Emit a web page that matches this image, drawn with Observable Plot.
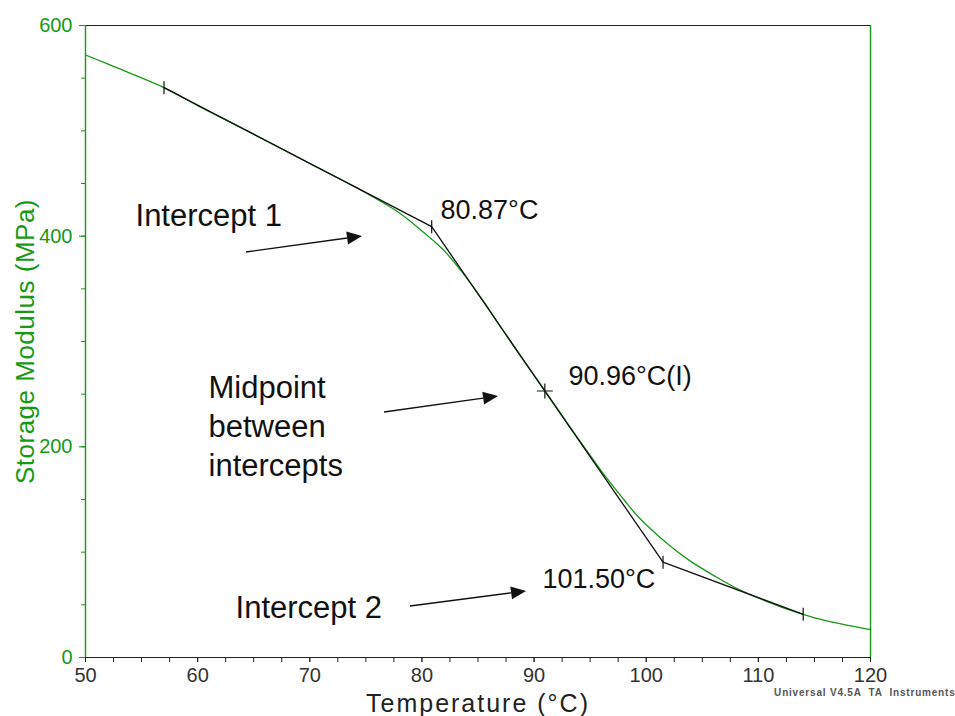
<!DOCTYPE html>
<html>
<head>
<meta charset="utf-8">
<script src="https://cdn.jsdelivr.net/npm/d3@7"></script>
<script src="https://cdn.jsdelivr.net/npm/@observablehq/plot@0.6"></script>
<style>
  body { margin: 0; background: #fff; }
  #chart { width: 955px; height: 716px; }
  #chart svg { font-family: "Liberation Sans", Arial, sans-serif; }
</style>
</head>
<body>
<div id="chart"></div>
<script>
// Storage modulus curve (DMA temperature sweep)
const temperature = [50, 53, 57, 60, 65, 70, 74, 76, 78, 80, 81, 82, 83.5, 85.5, 87, 89, 91, 93, 95, 96.5, 98, 99, 100, 102, 104, 106, 108, 110, 112, 114, 116, 118, 120];
const modulus     = [572, 559, 541, 524, 497, 469, 447, 435, 422, 405, 396, 386, 367, 338, 314, 283, 253, 222, 192, 170, 150, 137, 126, 107, 91, 78, 66, 56.5, 48, 41, 35, 30.5, 26.5];

// Onset / midpoint / endset tangent construction
const tangentTemp    = [57, 80.87, 90.96, 101.50, 114.0];
const tangentModulus = [541, 409, 253, 90.5, 41];
const tangentMark    = ["end", "end", "mid", "end", "end"];

// Axis ticks
const xMajor = [50, 60, 70, 80, 90, 100, 110, 120];
const xMinor = d3.range(50, 120.01, 2.5);
const yMajor = [0, 200, 400, 600];
const yMinor = d3.range(0, 600.01, 50);

// Annotations (data units)
const noteText  = ["Intercept 1", "Midpoint\nbetween\nintercepts", "Intercept 2"];
const noteTemp  = [54.46, 60.97, 63.38];
const noteMod   = [421.5, 221.2, 49.4];

const valueText = ["80.87°C", "90.96°C(I)", "101.50°C"];
const valueTemp = [81.66, 93.07, 90.75];
const valueMod  = [424.4, 266.8, 74.0];

const arrowFromT = [64.36, 76.66, 78.98];
const arrowFromM = [384.5, 232.6, 48.4];
const arrowToT   = [74.70, 86.83, 89.33];
const arrowToM   = [399.7, 247.8, 62.7];

const green = "#159a15";
const font = "Liberation Sans, Arial, sans-serif";

const curve = temperature.map((t, i) => ({t, m: modulus[i]}));
const tangent = tangentTemp.map((t, i) => ({t, m: tangentModulus[i], kind: tangentMark[i]}));
const notes = noteText.map((s, i) => ({s, t: noteTemp[i], m: noteMod[i]}));
const values = valueText.map((s, i) => ({s, t: valueTemp[i], m: valueMod[i]}));
const arrows = arrowFromT.map((t, i) => ({t1: t, m1: arrowFromM[i], t2: arrowToT[i], m2: arrowToM[i]}));

// short vertical tick and plus symbols for the tangent markers
const vbar = {draw(ctx) { ctx.moveTo(0, -6.5); ctx.lineTo(0, 6.5); }};
const plus = {draw(ctx) { ctx.moveTo(0, -7.5); ctx.lineTo(0, 7.5); ctx.moveTo(-8, 0); ctx.lineTo(8, 0); }};

// arrows with filled triangular heads
function drawArrows(index, scales) {
  const g = d3.create("svg:g").attr("aria-label", "arrows");
  for (const i of index) {
    const d = arrows[i];
    const x1 = scales.x(d.t1), y1 = scales.y(d.m1);
    const x2 = scales.x(d.t2), y2 = scales.y(d.m2);
    const a = Math.atan2(y2 - y1, x2 - x1);
    const L = 15, W = 6.5;
    const bx = x2 - L * Math.cos(a), by = y2 - L * Math.sin(a);
    g.append("line")
      .attr("x1", x1).attr("y1", y1).attr("x2", bx).attr("y2", by)
      .attr("stroke", "#111").attr("stroke-width", 1.4);
    g.append("path")
      .attr("d", `M${x2},${y2}L${bx - W * Math.sin(a)},${by + W * Math.cos(a)}L${bx + W * Math.sin(a)},${by - W * Math.cos(a)}Z`)
      .attr("fill", "#111");
  }
  return g.node();
}

const chart = Plot.plot({
  width: 955,
  height: 716,
  marginLeft: 85,
  marginRight: 85,
  marginTop: 25,
  marginBottom: 59,
  style: {fontFamily: font, background: "#fff", overflow: "visible"},
  x: {domain: [50, 120]},
  y: {domain: [0, 600]},
  marks: [
    // frame
    Plot.ruleY([600], {stroke: "#222", strokeWidth: 1.2}),
    Plot.ruleY([0], {stroke: "#222", strokeWidth: 1.2}),
    Plot.ruleX([120], {stroke: green, strokeWidth: 1.4}),
    // axes
    Plot.axisX(xMinor, {tickSize: 5, tickFormat: () => "", stroke: "#222", label: null}),
    Plot.axisX(xMajor, {tickSize: 5, tickPadding: 5, fontSize: 20, fill: "#333", stroke: "#222", label: null}),
    Plot.axisY(yMinor, {tickSize: 4, tickFormat: () => "", stroke: green, label: null}),
    Plot.axisY(yMajor, {tickSize: 6, tickPadding: 7, fontSize: 20, fill: green, stroke: green, label: null}),
    Plot.ruleX([50], {stroke: green, strokeWidth: 1.4}),
    // axis titles
    Plot.text(["Temperature (°C)"], {frameAnchor: "bottom", dy: 46, fontSize: 25, fill: "#222", text: d => d, textAnchor: "middle", lineAnchor: "middle"}),
    Plot.text(["Storage Modulus (MPa)"], {frameAnchor: "left", dx: -60, rotate: -90, fontSize: 26, fill: green, text: d => d, textAnchor: "middle", lineAnchor: "middle"}),
    Plot.text(["Universal V4.5A  TA  Instruments"], {frameAnchor: "bottom-right", dx: 85, dy: 38, textAnchor: "end", fontSize: 10, fontWeight: "bold", fill: "#555", text: d => d}),
    // data curve
    Plot.line(curve, {x: "t", y: "m", stroke: green, strokeWidth: 1.3, curve: "catmull-rom"}),
    // tangent construction
    Plot.line(tangent, {x: "t", y: "m", stroke: "#111", strokeWidth: 1.3}),
    Plot.dot(tangent.filter(d => d.kind === "end"), {x: "t", y: "m", symbol: vbar, fill: "none", stroke: "#111", strokeWidth: 1.2}),
    Plot.dot(tangent.filter(d => d.kind === "mid"), {x: "t", y: "m", symbol: plus, fill: "none", stroke: "#111", strokeWidth: 1.2}),
    // annotations
    Plot.text(notes, {x: "t", y: "m", text: "s", textAnchor: "start", lineAnchor: "middle", fontSize: 31, lineHeight: 1.26, fill: "#111"}),
    Plot.text(values, {x: "t", y: "m", text: "s", textAnchor: "start", lineAnchor: "middle", fontSize: 27, fill: "#111"}),
    Plot.link(arrows, {x1: "t1", y1: "m1", x2: "t2", y2: "m2", render: drawArrows})
  ]
});

// letter spacing for the axis titles and instrument credit
d3.select(chart).selectAll("text").each(function() {
  const s = this.textContent;
  if (s.startsWith("Temperature")) this.style.letterSpacing = "2px";
  else if (s.startsWith("Storage")) this.style.letterSpacing = "0.5px";
  else if (s.startsWith("Universal")) this.style.letterSpacing = "0.8px";
});

document.getElementById("chart").append(chart);
</script>
</body>
</html>
